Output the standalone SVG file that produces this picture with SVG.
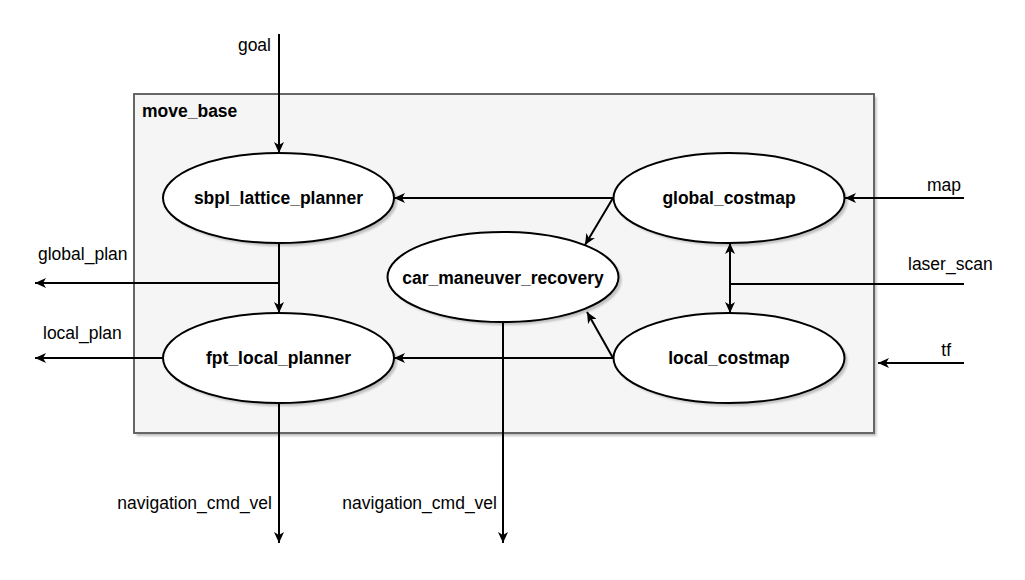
<svg xmlns="http://www.w3.org/2000/svg" width="1025" height="580" viewBox="0 0 1025 580">
  <style>
    .lbl { font-family: "Liberation Sans", Arial, sans-serif; font-size: 17.5px; fill: #000; }
    .node-lbl { font-family: "Liberation Sans", Arial, sans-serif; font-size: 17.5px; font-weight: bold; fill: #000; text-anchor: middle; }
    .node { fill: #fff; stroke: #000; stroke-width: 2; }
    .shadow { fill: #000; opacity: 0.22; }
    .edge { fill: none; stroke: #000; stroke-width: 2; }
  </style>
  <defs>
    <marker id="arrow" viewBox="0 0 12 10" markerWidth="12" markerHeight="10" refX="11" refY="5" orient="auto-start-reverse" markerUnits="userSpaceOnUse">
      <path d="M0,0 L11,5 L0,10 L3,5 z" fill="#000"/>
    </marker>
    <filter id="soft" x="-10%" y="-10%" width="120%" height="120%">
      <feGaussianBlur stdDeviation="1"/>
    </filter>
  </defs>

  <rect width="1025" height="580" fill="#fff"/>

  <!-- move_base container -->
  <g id="move_base">
    <rect x="136.5" y="97" width="740" height="339" fill="#000" opacity="0.25" filter="url(#soft)"/>
    <rect x="134" y="94" width="740" height="339" fill="#f5f5f5" stroke="#666" stroke-width="2"/>
    <text class="lbl" x="142" y="117" font-weight="bold">move_base</text>
  </g>

  <!-- connectors -->
  <g id="connectors">
    <path class="edge" d="M279,34 V153" marker-end="url(#arrow)"/>
    <path class="edge" d="M279,243 V313" marker-end="url(#arrow)"/>
    <path class="edge" d="M279,283 H35" marker-end="url(#arrow)"/>
    <path class="edge" d="M163,358 H35" marker-end="url(#arrow)"/>
    <path class="edge" d="M613,198 H394" marker-end="url(#arrow)"/>
    <path class="edge" d="M613,198 L585,245" marker-end="url(#arrow)"/>
    <path class="edge" d="M613,358 L587,312" marker-end="url(#arrow)"/>
    <path class="edge" d="M613,358 H394" marker-end="url(#arrow)"/>
    <path class="edge" d="M730,243 V313" marker-start="url(#arrow)" marker-end="url(#arrow)"/>
    <path class="edge" d="M964,284 H730"/>
    <path class="edge" d="M964,198 H845" marker-end="url(#arrow)"/>
    <path class="edge" d="M964,363 H878" marker-end="url(#arrow)"/>
    <path class="edge" d="M279,403 V543" marker-end="url(#arrow)"/>
    <path class="edge" d="M503,322 V543" marker-end="url(#arrow)"/>
  </g>

  <!-- nodes -->
  <g id="sbpl_lattice_planner">
    <ellipse class="shadow" cx="281.5" cy="201" rx="115.5" ry="45" filter="url(#soft)"/>
    <ellipse class="node" cx="278.5" cy="198" rx="115.5" ry="45"/>
    <text class="node-lbl" x="278.5" y="204">sbpl_lattice_planner</text>
  </g>
  <g id="global_costmap">
    <ellipse class="shadow" cx="732" cy="201" rx="115.5" ry="45" filter="url(#soft)"/>
    <ellipse class="node" cx="729" cy="198" rx="115.5" ry="45"/>
    <text class="node-lbl" x="729" y="204">global_costmap</text>
  </g>
  <g id="car_maneuver_recovery">
    <ellipse class="shadow" cx="506" cy="280" rx="115.5" ry="45" filter="url(#soft)"/>
    <ellipse class="node" cx="503" cy="277" rx="115.5" ry="45"/>
    <text class="node-lbl" x="503" y="284">car_maneuver_recovery</text>
  </g>
  <g id="fpt_local_planner">
    <ellipse class="shadow" cx="281.5" cy="361" rx="115.5" ry="45" filter="url(#soft)"/>
    <ellipse class="node" cx="278.5" cy="358" rx="115.5" ry="45"/>
    <text class="node-lbl" x="278.5" y="364">fpt_local_planner</text>
  </g>
  <g id="local_costmap">
    <ellipse class="shadow" cx="732" cy="361" rx="115.5" ry="45" filter="url(#soft)"/>
    <ellipse class="node" cx="729" cy="358" rx="115.5" ry="45"/>
    <text class="node-lbl" x="729" y="364">local_costmap</text>
  </g>

  <!-- topic labels -->
  <g id="topic_labels">
    <text class="lbl" x="271" y="51" text-anchor="end">goal</text>
    <text class="lbl" x="38" y="260">global_plan</text>
    <text class="lbl" x="43" y="339">local_plan</text>
    <text class="lbl" x="961" y="191" text-anchor="end">map</text>
    <text class="lbl" x="908" y="270">laser_scan</text>
    <text class="lbl" x="951" y="356" text-anchor="end">tf</text>
    <text class="lbl" x="272" y="509" text-anchor="end">navigation_cmd_vel</text>
    <text class="lbl" x="497" y="509" text-anchor="end">navigation_cmd_vel</text>
  </g>
</svg>
